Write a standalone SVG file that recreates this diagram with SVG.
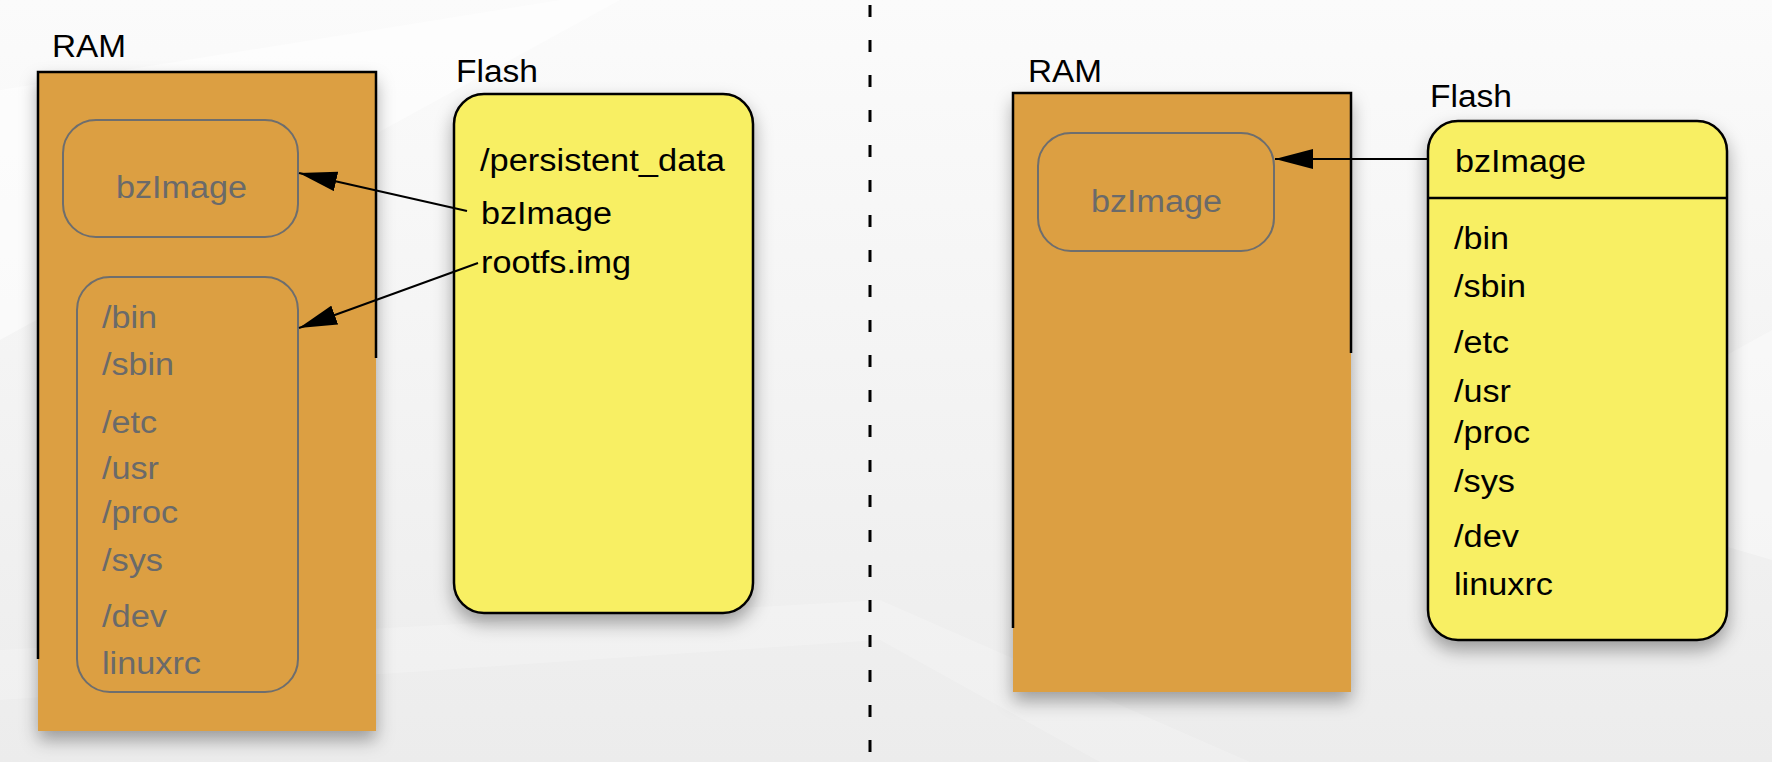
<svg xmlns="http://www.w3.org/2000/svg" width="1772" height="762" viewBox="0 0 1772 762">
  <defs>
    <linearGradient id="bg" x1="0" y1="0" x2="0" y2="1">
      <stop offset="0" stop-color="#fbfbfb"/>
      <stop offset="1" stop-color="#ececec"/>
    </linearGradient>
    <filter id="shadow" x="-20%" y="-20%" width="140%" height="140%">
      <feDropShadow dx="0" dy="9" stdDeviation="9" flood-color="#000" flood-opacity="0.35"/>
    </filter>
    <marker id="arrow" markerUnits="userSpaceOnUse" markerWidth="38" markerHeight="20" refX="38" refY="10" orient="auto">
      <path d="M0,0 L38,10 L0,20 Z" fill="#000"/>
    </marker>
  </defs>
  <style>
    text { font-family: "Liberation Sans", Arial, sans-serif; font-size: 31px; }
    .lbl { fill: #000; }
    .item { fill: #000; }
    .gitem { fill: #6a6a6a; }
    .ram { fill: #dc9f42; }
    .edge { fill: none; stroke: #000; stroke-width: 2.5; }
    .inner { fill: none; stroke: #6e6e6e; stroke-width: 2; }
    .flash { fill: #f8ef63; stroke: #000; stroke-width: 2.5; }
    .conn { stroke: #000; stroke-width: 2; fill: none; marker-end: url(#arrow); }
    .sep { stroke: #000; stroke-width: 3; stroke-dasharray: 12 23; }
  </style>

  <g id="background">
    <rect x="0" y="0" width="1772" height="762" fill="url(#bg)"/>
    <polygon points="0,90 560,0 620,0 0,340" fill="#ffffff" opacity="0.5"/>
    <polygon points="1500,480 1772,330 1772,560" fill="#ffffff" opacity="0.35"/>
    <polygon points="0,650 880,600 1250,762 1100,762 880,640 0,700" fill="#ffffff" opacity="0.2"/>
  </g>

  <g id="separator">
    <line class="sep" x1="870" y1="5" x2="870" y2="762"/>
  </g>

  <g id="left-ram">
    <text class="lbl" x="52" y="57" textLength="74" lengthAdjust="spacingAndGlyphs">RAM</text>
    <rect class="ram" x="38" y="72" width="338" height="659" filter="url(#shadow)"/>
    <path class="edge" d="M38,659 V72 H376 V358"/>
  </g>

  <g id="left-ram-bzimage">
    <rect class="inner" x="63" y="120" width="235" height="117" rx="33" ry="33"/>
    <text class="gitem" x="116" y="198" textLength="131" lengthAdjust="spacingAndGlyphs">bzImage</text>
  </g>

  <g id="left-ram-rootfs">
    <rect class="inner" x="77" y="277" width="221" height="415" rx="33" ry="33"/>
    <text class="gitem" x="102" y="328" textLength="55" lengthAdjust="spacingAndGlyphs">/bin</text>
    <text class="gitem" x="102" y="375" textLength="72" lengthAdjust="spacingAndGlyphs">/sbin</text>
    <text class="gitem" x="102" y="433" textLength="55" lengthAdjust="spacingAndGlyphs">/etc</text>
    <text class="gitem" x="102" y="479" textLength="57" lengthAdjust="spacingAndGlyphs">/usr</text>
    <text class="gitem" x="102" y="523" textLength="76" lengthAdjust="spacingAndGlyphs">/proc</text>
    <text class="gitem" x="102" y="571" textLength="61" lengthAdjust="spacingAndGlyphs">/sys</text>
    <text class="gitem" x="102" y="627" textLength="65" lengthAdjust="spacingAndGlyphs">/dev</text>
    <text class="gitem" x="102" y="674" textLength="99" lengthAdjust="spacingAndGlyphs">linuxrc</text>
  </g>

  <g id="left-flash">
    <text class="lbl" x="456" y="82" textLength="82" lengthAdjust="spacingAndGlyphs">Flash</text>
    <rect class="flash" x="454" y="94" width="299" height="519" rx="30" ry="30" filter="url(#shadow)"/>
    <text class="item" x="480" y="171" textLength="245" lengthAdjust="spacingAndGlyphs">/persistent_data</text>
    <text class="item" x="481" y="224" textLength="131" lengthAdjust="spacingAndGlyphs">bzImage</text>
    <text class="item" x="481" y="273" textLength="150" lengthAdjust="spacingAndGlyphs">rootfs.img</text>
  </g>

  <g id="right-ram">
    <text class="lbl" x="1028" y="82" textLength="74" lengthAdjust="spacingAndGlyphs">RAM</text>
    <rect class="ram" x="1013" y="93" width="338" height="599" filter="url(#shadow)"/>
    <path class="edge" d="M1013,628 V93 H1351 V353"/>
  </g>

  <g id="right-ram-bzimage">
    <rect class="inner" x="1038" y="133" width="236" height="118" rx="33" ry="33"/>
    <text class="gitem" x="1091" y="212" textLength="131" lengthAdjust="spacingAndGlyphs">bzImage</text>
  </g>

  <g id="right-flash">
    <text class="lbl" x="1430" y="107" textLength="82" lengthAdjust="spacingAndGlyphs">Flash</text>
    <rect class="flash" x="1428" y="121" width="299" height="519" rx="30" ry="30" filter="url(#shadow)"/>
    <line x1="1428" y1="198" x2="1727" y2="198" stroke="#000" stroke-width="2.5"/>
    <text class="item" x="1455" y="172" textLength="131" lengthAdjust="spacingAndGlyphs">bzImage</text>
    <text class="item" x="1454" y="249" textLength="55" lengthAdjust="spacingAndGlyphs">/bin</text>
    <text class="item" x="1454" y="297" textLength="72" lengthAdjust="spacingAndGlyphs">/sbin</text>
    <text class="item" x="1454" y="353" textLength="55" lengthAdjust="spacingAndGlyphs">/etc</text>
    <text class="item" x="1454" y="402" textLength="57" lengthAdjust="spacingAndGlyphs">/usr</text>
    <text class="item" x="1454" y="443" textLength="76" lengthAdjust="spacingAndGlyphs">/proc</text>
    <text class="item" x="1454" y="492" textLength="61" lengthAdjust="spacingAndGlyphs">/sys</text>
    <text class="item" x="1454" y="547" textLength="65" lengthAdjust="spacingAndGlyphs">/dev</text>
    <text class="item" x="1454" y="595" textLength="99" lengthAdjust="spacingAndGlyphs">linuxrc</text>
  </g>

  <g id="connectors">
    <line class="conn" x1="467" y1="211" x2="299" y2="173"/>
    <line class="conn" x1="478" y1="263" x2="299" y2="328"/>
    <line class="conn" x1="1428" y1="159" x2="1275" y2="159"/>
  </g>
</svg>
